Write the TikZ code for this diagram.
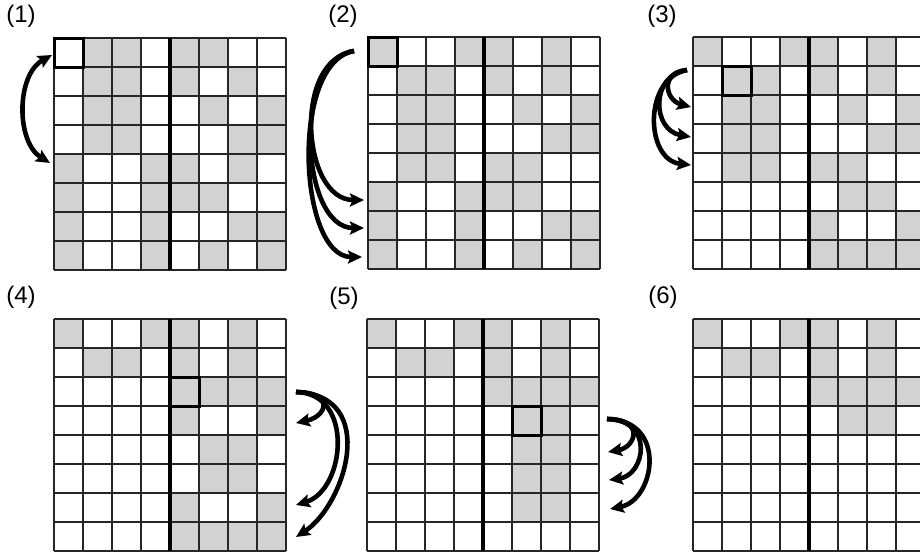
\documentclass[tikz,border=0pt]{standalone}
\usepackage{fontspec}
\setmainfont{Liberation Sans}
\usetikzlibrary{arrows.meta}
\definecolor{cellgray}{RGB}{210,210,210}
\newcommand\lblfont{\fontsize{24}{24}\selectfont}
\tikzset{
  gridln/.style={draw=black!85, line width=1.1pt},
  midln/.style={draw=black, line width=4.5pt},
  selbox/.style={draw=black, line width=3pt},
  arr/.style={draw=black, line width=4.6pt, -{Stealth[length=14pt,width=13pt,inset=2.5pt]}},
  dblarr/.style={draw=black, line width=4.6pt, {Stealth[length=14pt,width=13pt,inset=2.5pt]}-{Stealth[length=14pt,width=13pt,inset=2.5pt]}},
  lbl/.style={inner sep=0pt}
}
\newcommand\drawgridat[3]{%
  \begin{scope}[shift={(#1,#2)}]
    \foreach \c/\r in {#3} {\fill[cellgray] ({(\c-1)*29},{(\r-1)*29}) rectangle ++(29,29);}
    \foreach \i in {0,...,8} {
      \draw[gridln] ({\i*29},0) -- ({\i*29},232);
      \draw[gridln] (0,{\i*29}) -- (232,{\i*29});
    }
    \draw[midln] (116,0) -- (116,232);
  \end{scope}}
\begin{document}
\begin{tikzpicture}[x=1pt,y=-1pt]
\useasboundingbox (0,0) rectangle (920,558);
\clip (0,0) rectangle (920,558);
\fill[white] (0,0) rectangle (920,558);

% grid 1
\drawgridat{54}{38}{2/1,3/1,5/1,6/1, 2/2,3/2,5/2,7/2, 2/3,3/3,6/3,8/3, 2/4,3/4,7/4,8/4,
  1/5,4/5,5/5,7/5, 1/6,4/6,5/6,6/6, 1/7,4/7,7/7,8/7, 1/8,4/8,6/8,8/8}
% grid 2
\drawgridat{368}{37}{1/1,4/1,5/1,7/1, 2/2,3/2,5/2,7/2, 2/3,3/3,6/3,8/3, 2/4,3/4,7/4,8/4,
  2/5,3/5,5/5,6/5, 1/6,4/6,5/6,6/6, 1/7,4/7,7/7,8/7, 1/8,4/8,6/8,8/8}
% grid 3
\drawgridat{693}{37}{1/1,4/1,5/1,7/1, 2/2,3/2,5/2,7/2, 2/3,3/3,6/3,8/3, 2/4,3/4,7/4,8/4,
  2/5,3/5,5/5,6/5, 6/6,7/6, 5/7,8/7, 5/8,6/8,7/8,8/8}
% grid 4
\drawgridat{54}{319}{1/1,4/1,5/1,7/1, 2/2,3/2,5/2,7/2, 5/3,6/3,7/3,8/3, 5/4,8/4,
  6/5,7/5, 6/6,7/6, 5/7,8/7, 5/8,6/8,7/8,8/8}
% grid 5
\drawgridat{367}{319}{1/1,4/1,5/1,7/1, 2/2,3/2,5/2,7/2, 5/3,6/3,7/3,8/3, 6/4,7/4,
  6/5,7/5, 6/6,7/6, 6/7,7/7}
% grid 6
\drawgridat{693}{319}{1/1,4/1,5/1,7/1, 2/2,3/2,5/2,7/2, 5/3,6/3,7/3,8/3, 6/4,7/4}

% selected cells
\draw[selbox] (54,38) rectangle (83,67);
\draw[selbox] (368,37) rectangle (397,66);
\draw[selbox] (722,66) rectangle (751,95);
\draw[selbox] (170,377) rectangle (199,406);
\draw[selbox] (512,406) rectangle (541,435);

% labels
\node[lbl] (l1) at (21,16) {\lblfont (1)};
\node[lbl] (l2) at (343,16) {\lblfont (2)};
\node[lbl] (l3) at (662,16) {\lblfont (3)};
\node[lbl] (l4) at (21,297) {\lblfont (4)};
\node[lbl] (l5) at (344,298) {\lblfont (5)};
\node[lbl] (l6) at (663,297) {\lblfont (6)};

% arrows grid 1
\coordinate (s1) at (52,55);
\coordinate (e1) at (50,163);
\draw[dblarr] (s1) .. controls (16,75) and (16,142) .. (e1);

% arrows grid 2
\coordinate (s2) at (354,51);
\coordinate (e21) at (364,200);
\coordinate (e22) at (364,228);
\coordinate (e23) at (362,257);
\draw[arr] (s2) .. controls (292,60) and (302,200) .. (e21);
\draw[arr] (s2) .. controls (292,60) and (300,228) .. (e22);
\draw[arr] (s2) .. controls (290,62) and (298,257) .. (e23);

% arrows grid 3
\coordinate (s3) at (687,70);
\coordinate (e31) at (691,107);
\coordinate (e32) at (691,137);
\coordinate (e33) at (691,165);
\draw[arr] (s3) .. controls (660,72) and (665,100) .. (e31);
\draw[arr] (s3) .. controls (650,75) and (652,130) .. (e32);
\draw[arr] (s3) .. controls (643,78) and (645,160) .. (e33);

% arrows grid 4
\coordinate (s4) at (296,392);
\coordinate (e41) at (296,423);
\coordinate (e42) at (296,505);
\coordinate (e43) at (296,537);
\draw[arr] (s4) .. controls (334,392) and (328,416) .. (e41);
\draw[arr] (s4) .. controls (355,393) and (345,490) .. (e42);
\draw[arr] (s4) .. controls (380,395) and (345,505) .. (e43);

% arrows grid 5
\coordinate (s5) at (607,419);
\coordinate (e51) at (608,452);
\coordinate (e52) at (609,480);
\coordinate (e53) at (610,509);
\draw[arr] (s5) .. controls (645,419) and (636,447) .. (e51);
\draw[arr] (s5) .. controls (655,420) and (645,475) .. (e52);
\draw[arr] (s5) .. controls (668,420) and (655,500) .. (e53);
\end{tikzpicture}
\end{document}
